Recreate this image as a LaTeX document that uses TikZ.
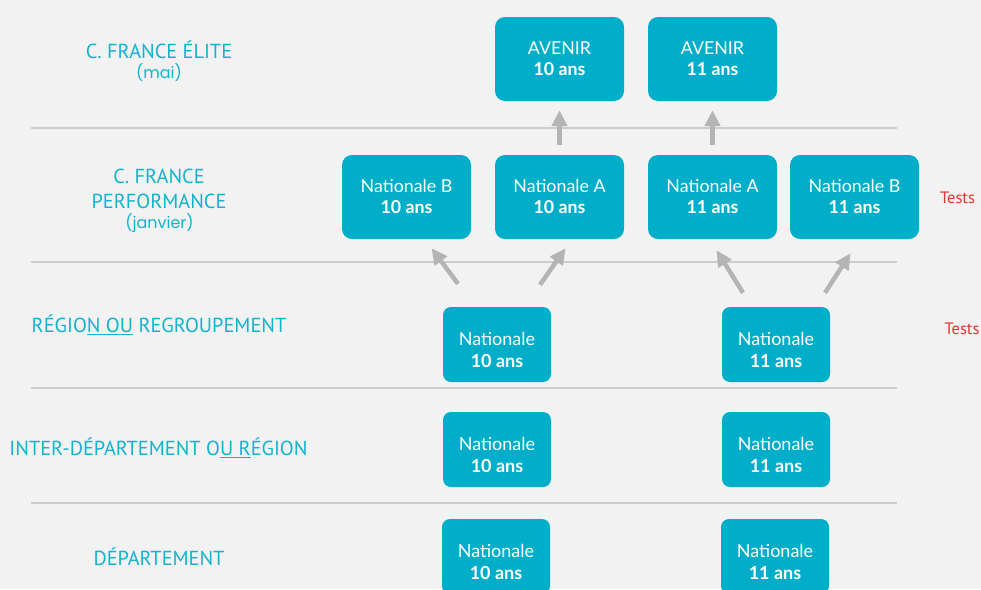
\documentclass[tikz,border=0pt]{standalone}
\usepackage{fontspec}
\setmainfont{PT Sans}
\newfontfamily\boxfont{Lato}
\newfontfamily\subfont{Poppins}
\usetikzlibrary{arrows.meta,positioning}

\definecolor{bgray}{HTML}{F2F2F2}
\definecolor{boxcyan}{HTML}{00AECA}
\definecolor{lblcyan}{HTML}{12B3CD}
\definecolor{sepgray}{HTML}{CCCCCC}
\definecolor{arrgray}{HTML}{B4B4B4}
\definecolor{testred}{HTML}{E3342F}

\begin{document}
\begin{tikzpicture}[x=1pt,y=-1pt]
	\tikzset{bigbox/.style={fill=boxcyan,text=white,rounded corners=10pt,minimum width=129pt,minimum height=84pt,align=center,inner sep=0pt,font=\boxfont\fontsize{17.8}{21}\selectfont},
		smallbox/.style={fill=boxcyan,rounded corners=8pt,minimum width=108pt,minimum height=75pt,inner sep=0pt},
		boxtext/.style={text=white,align=center,inner sep=0pt,font=\boxfont\fontsize{18}{22}\selectfont},
		lbl/.style={text=lblcyan,align=center,inner sep=0pt,font=\fontsize{20.3}{25}\selectfont},
		sublbl/.style={text=lblcyan,inner sep=0pt,font=\subfont\fontsize{16}{18}\selectfont},
		tests/.style={text=testred,inner sep=0pt,font=\fontsize{16.5}{18}\selectfont},
		sep/.style={sepgray,line width=1.5pt},
		uparrow/.style={arrgray,line width=4.5pt,-{Triangle[width=15pt,length=16pt]}}};
	\fill[bgray] (0,0) rectangle (981,589);
	\clip (0,0) rectangle (981,589);
	
	% separators
	\foreach \y in {128,262,388,503}
		\draw[sep] (31,\y) -- (897,\y);
	
	% levels
	\node[lbl] (elite) at (159,50) {C. FRANCE ÉLITE};
	\node[sublbl] (mai) at (159,73) {(mai)};
	\node[lbl] (perf) at (159,189) {C. FRANCE\\PERFORMANCE};
	\node[sublbl] (janv) at (159.5,223) {(janvier)};
	\node[lbl] (reg) at (159,325) {RÉGIO\underline{N OU} REGROUPEMENT};
	\node[lbl] (inter) at (158.5,448) {INTER-DÉPARTEMENT O\underline{U R}ÉGION};
	\node[lbl] (dep) at (159,557) {DÉPARTEMENT};
	
	% C. France Elite
	\node[bigbox] (av10) at (559.5,59) {AVENIR\\\textbf{10 ans}};
	\node[bigbox] (av11) at (712.5,59) {AVENIR\\\textbf{11 ans}};
	
	% C. France Performance
	\node[bigbox] (nb10) at (406.5,197) {Nationale B\\\textbf{10 ans}};
	\node[bigbox] (na10) at (559.5,197) {Nationale A\\\textbf{10 ans}};
	\node[bigbox] (na11) at (712.5,197) {Nationale A\\\textbf{11 ans}};
	\node[bigbox] (nb11) at (854.5,197) {Nationale B\\\textbf{11 ans}};
	\node[tests] (t1) at (957.5,198) {Tests};
	
	% Region, inter-departement, departement
	\node[smallbox] (r10) at (497,344.5) {};
	\node[smallbox] (r11) at (776,344.5) {};
	\node[smallbox] (i10) at (497,449.5) {};
	\node[smallbox] (i11) at (776,449.5) {};
	\node[smallbox] (d10) at (496,556.5) {};
	\node[smallbox] (d11) at (775,556.5) {};
	\node[boxtext] (r10t) at ([yshift=-5pt]r10.center) {Nationale\\\textbf{10 ans}};
	\node[boxtext] (r11t) at ([yshift=-5pt]r11.center) {Nationale\\\textbf{11 ans}};
	\node[boxtext] (i10t) at ([yshift=-5pt]i10.center) {Nationale\\\textbf{10 ans}};
	\node[boxtext] (i11t) at ([yshift=-5pt]i11.center) {Nationale\\\textbf{11 ans}};
	\node[boxtext] (d10t) at ([yshift=-5.5pt]d10.center) {Nationale\\\textbf{10 ans}};
	\node[boxtext] (d11t) at ([yshift=-5.5pt]d11.center) {Nationale\\\textbf{11 ans}};
	\node[tests] (t2) at (962,329) {Tests};
	
	% arrows
	\draw[uparrow,shorten <=10pt,shorten >=9pt] (na10) -- (av10);
	\draw[uparrow,shorten <=10pt,shorten >=9pt] (na11) -- (av11);
	\draw[uparrow] ([xshift=-39pt,yshift=23pt]r10.north) -- ([xshift=25pt,yshift=-9pt]nb10.south);
	\draw[uparrow] ([xshift=43pt,yshift=22pt]r10.north) -- ([xshift=6pt,yshift=-9pt]na10.south);
	\draw[uparrow] ([xshift=-33pt,yshift=14pt]r11.north) -- ([xshift=4pt,yshift=-11pt]na11.south);
	\draw[uparrow] ([xshift=49pt,yshift=14pt]r11.north) -- ([xshift=-4pt,yshift=-14pt]nb11.south);
\end{tikzpicture}
\end{document}
